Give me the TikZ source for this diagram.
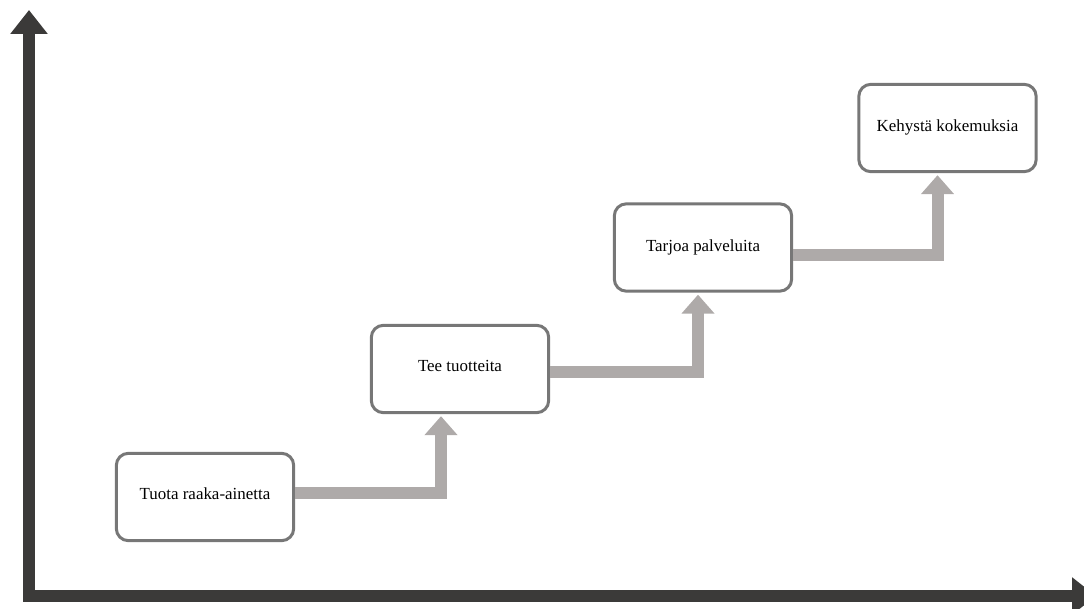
\documentclass[tikz,border=0pt]{standalone}
\usepackage{fontspec}
\setmainfont{Liberation Serif}
\usetikzlibrary{arrows.meta}
\definecolor{axisdark}{HTML}{3B3A39}
\definecolor{flowgrey}{HTML}{AEAAA9}
\definecolor{boxedge}{HTML}{777777}
\tikzset{
  stage/.style={draw=boxedge, line width=2.25pt, rounded corners=9pt, fill=white,
    minimum width=133pt, minimum height=65.5pt, inner sep=0pt,
    font=\fontsize{12.7}{15}\selectfont},
  flow/.style={draw=flowgrey, line width=9pt, line join=miter,
    -{Triangle[width=24pt,length=14.25pt]}, shorten >=1.5pt},
  axisline/.style={draw=axisdark, line width=9pt, line join=miter,
    {Triangle[width=27pt,length=18pt]}-{Triangle[width=27pt,length=18pt]}}
}
\begin{document}
\begin{tikzpicture}[x=0.75pt, y=-0.75pt]
  \useasboundingbox (0,0) rectangle (1084,609);
  \clip (0,0) rectangle (1084,609);

  % axes
  \coordinate (ytop) at (29,10);
  \coordinate (origin) at (29,596);
  \coordinate (xend) at (1096,596);
  \draw[axisline] (ytop) -- (origin) -- (xend);

  % stages
  \node[stage] (b1) at (205,497) {\raisebox{4.5pt}{Tuota raaka-ainetta}};
  \node[stage] (b2) at (460,369) {\raisebox{4.5pt}{Tee tuotteita}};
  \node[stage] (b3) at (703,247.5) {\raisebox{3pt}{Tarjoa palveluita}};
  \node[stage] (b4) at (947.5,128) {\raisebox{3pt}{Kehystä kokemuksia}};

  % step connectors
  \coordinate (c1) at (441,493);
  \coordinate (c2) at (698,371.5);
  \coordinate (c3) at (937.5,255);
  \draw[flow] (b1.east |- c1) -- (c1) -- (c1 |- b2.south);
  \draw[flow] (b2.east |- c2) -- (c2) -- (c2 |- b3.south);
  \draw[flow] (b3.east |- c3) -- (c3) -- (c3 |- b4.south);
\end{tikzpicture}
\end{document}
